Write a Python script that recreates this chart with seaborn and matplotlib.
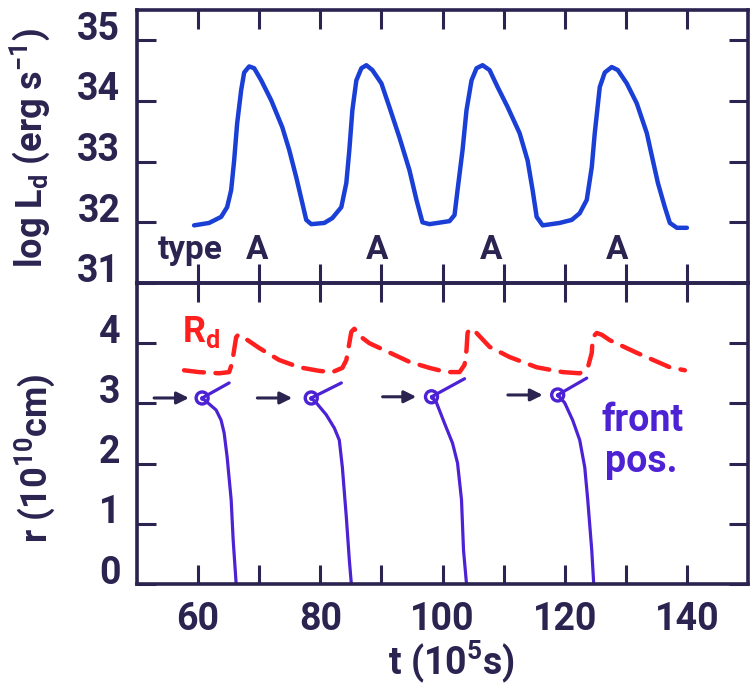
import numpy as np
import pandas as pd
import matplotlib
matplotlib.use("Agg")
import matplotlib.pyplot as plt
import matplotlib.transforms as mtransforms
import seaborn as sns

# ---- data ----
lum_t = [59.34, 61.80, 63.77, 64.75, 65.41, 65.90, 66.39, 67.05, 67.54, 68.36, 69.18, 70.33,
         71.97, 73.77, 74.92, 76.07, 77.05, 77.70, 78.52, 80.66, 81.97, 83.44, 84.26, 84.75,
         85.25, 85.90, 86.72, 87.54, 88.52, 90.00, 91.31, 92.95, 94.59, 95.74, 96.72, 97.87,
         101.15, 101.97, 102.46, 103.28, 103.93, 104.75, 105.57, 106.56, 107.70, 109.02,
         110.66, 112.62, 113.93, 114.75, 115.41, 116.39, 119.18, 121.15, 122.46, 123.61,
         124.43, 124.92, 125.74, 126.56, 127.70, 128.69, 130.16, 131.80, 133.44, 134.43,
         135.25, 136.39, 137.21, 138.36, 140.00]
lum_logL = [31.95, 31.99, 32.09, 32.25, 32.53, 33.02, 33.63, 34.18, 34.47, 34.57, 34.54, 34.34,
            34.01, 33.57, 33.19, 32.74, 32.32, 32.04, 31.97, 31.99, 32.07, 32.25, 32.65, 33.19,
            33.85, 34.34, 34.54, 34.59, 34.51, 34.29, 33.90, 33.40, 32.86, 32.37, 32.00, 31.97,
            32.02, 32.12, 32.53, 33.19, 33.85, 34.34, 34.54, 34.59, 34.51, 34.23,
            33.90, 33.47, 33.02, 32.53, 32.09, 31.95, 31.99, 32.04, 32.15, 32.37,
            32.91, 33.47, 34.23, 34.47, 34.56, 34.51, 34.29, 33.96, 33.47, 33.02,
            32.65, 32.25, 31.99, 31.91, 31.91]

type_label_t = [69.7, 89.3, 108.0, 128.5]
type_label = ["A", "A", "A", "A"]

rd_t = [57.70, 60.16, 63.44, 65.08, 65.57, 65.90, 66.23, 66.56, 67.54, 70.00, 73.28, 76.56,
        79.84, 81.97, 83.61, 84.26, 84.75, 85.08, 85.57, 86.72, 88.03, 94.59, 97.87, 100.66,
        102.79, 103.61, 103.93, 104.10, 104.43, 105.57, 107.70, 110.98, 115.41, 119.67,
        122.46, 123.77, 124.43, 124.59, 125.25, 126.07, 127.38, 131.80, 137.21, 139.67]
rd_r = [3.55, 3.52, 3.50, 3.52, 3.67, 3.89, 4.10, 4.14, 4.09, 3.92, 3.72, 3.60,
        3.54, 3.52, 3.59, 3.72, 4.00, 4.19, 4.24, 4.10, 4.00, 3.69, 3.59, 3.52,
        3.52, 3.64, 3.89, 4.17, 4.24, 4.17, 3.94, 3.77, 3.60, 3.52,
        3.50, 3.59, 3.84, 4.10, 4.17, 4.14, 4.05, 3.84, 3.60, 3.55]

front_cycle = [1]*9 + [2]*9 + [3]*8 + [4]*8
front_t = [60.66, 61.48, 62.95, 63.77, 64.26, 64.75, 65.41, 65.74, 66.23,
           78.52, 79.34, 80.98, 82.30, 83.11, 83.61, 84.26, 84.75, 85.08,
           98.20, 99.02, 100.33, 101.64, 102.46, 103.11, 103.44, 103.93,
           118.85, 120.00, 121.31, 122.46, 123.28, 123.77, 124.43, 124.75]
front_r = [3.09, 3.02, 2.89, 2.72, 2.51, 2.11, 1.40, 0.73, 0.00,
           3.09, 3.01, 2.81, 2.59, 2.39, 1.94, 1.11, 0.40, 0.00,
           3.11, 3.01, 2.67, 2.34, 2.01, 1.40, 0.56, 0.00,
           3.14, 3.01, 2.72, 2.39, 1.94, 1.40, 0.56, 0.00]

ignition_t = [60.66, 78.52, 98.20, 118.85]
ignition_r = [3.09, 3.09, 3.11, 3.14]
spur_t_end = [65.08, 83.44, 103.61, 123.61]
spur_r_end = [3.34, 3.34, 3.41, 3.42]
arrow_t_start = [52.8, 69.7, 90.2, 110.7]
arrow_t_end = [58.5, 75.4, 95.7, 116.4]
arrow_r = [3.09, 3.09, 3.11, 3.14]

x_ticks = [60, 80, 100, 120, 140]
top_yticks = [31, 32, 33, 34, 35]
bot_yticks = [0, 1, 2, 3, 4]

# ---- styling ----
sns.set_style("white")
plt.rcParams['font.family'] = ['Roboto', 'DejaVu Sans']
plt.rcParams['font.weight'] = 'bold'
plt.rcParams['mathtext.fontset'] = 'custom'
plt.rcParams['mathtext.rm'] = 'Roboto:bold'
plt.rcParams['mathtext.it'] = 'Roboto:bold'
plt.rcParams['mathtext.bf'] = 'Roboto:bold'
INK = "#2b2350"
BLUE = "#1a3fd6"
RED = "#ff1f1f"
PURPLE = "#4c22d4"
FS = 27

fig = plt.figure(figsize=(7.56, 6.87), dpi=100)
ax1 = fig.add_axes([137/756, 1-283/687, (748-137)/756, (283-10)/687])
ax2 = fig.add_axes([137/756, 1-584/687, (748-137)/756, (584-283)/687])

df_lum = pd.DataFrame({"t": lum_t, "logL": lum_logL})
sns.lineplot(data=df_lum, x="t", y="logL", ax=ax1, color=BLUE, lw=3.2,
             sort=False, estimator=None, solid_joinstyle="round", solid_capstyle="round")
ax1.text(58.8, 31.55, "type", fontsize=FS-3, color=INK, ha="center", va="center")
for tt, lab in zip(type_label_t, type_label):
    ax1.text(tt, 31.55, lab, fontsize=FS-3, color=INK, ha="center", va="center")

df_rd = pd.DataFrame({"t": rd_t, "r": rd_r})
sns.lineplot(data=df_rd, x="t", y="r", ax=ax2, color=RED, lw=3.2,
             sort=False, estimator=None)
ax2.lines[-1].set_dashes((4.5, 2.6))
ax2.lines[-1].set_dash_capstyle("round")

df_front = pd.DataFrame({"t": front_t, "r": front_r, "cycle": front_cycle})
sns.lineplot(data=df_front, x="t", y="r", units="cycle", estimator=None, sort=False,
             ax=ax2, color=PURPLE, lw=2.3, solid_joinstyle="round")
for t0, r0, t1, r1 in zip(ignition_t, ignition_r, spur_t_end, spur_r_end):
    ax2.plot([t0, t1], [r0, r1], color=PURPLE, lw=2.3, solid_capstyle="round")
sns.scatterplot(x=ignition_t, y=ignition_r, ax=ax2, s=75, facecolor="none",
                edgecolor=PURPLE, linewidth=2.4, zorder=5)
sns.scatterplot(x=ignition_t, y=ignition_r, ax=ax2, s=12, color=PURPLE,
                linewidth=0, zorder=6)
for ts, te, r0 in zip(arrow_t_start, arrow_t_end, arrow_r):
    ax2.annotate("", xy=(te, r0), xytext=(ts, r0),
                 arrowprops=dict(arrowstyle="-|>", color=INK, lw=2.2,
                                 mutation_scale=18, shrinkA=0, shrinkB=0))

ax2.text(57.3, 4.19, r"R$_\mathrm{d}$", fontsize=FS-1, color=RED, ha="left", va="center")
ax2.text(132.8, 2.72, "front", fontsize=FS, color=PURPLE, ha="center", va="center")
ax2.text(132.6, 2.03, "pos.", fontsize=FS, color=PURPLE, ha="center", va="center")

for ax in (ax1, ax2):
    ax.set_xlim(50, 150)
    ax.set_xticks(np.arange(60, 141, 10))
    ax.tick_params(direction="in", length=14, width=2.2, color=INK, labelcolor=INK,
                   labelsize=FS, top=True, right=True, bottom=True, left=True, pad=12)
    for sp in ax.spines.values():
        sp.set_color(INK)
        sp.set_linewidth(2.6)
        sp.set_visible(True)
    ax.set_xlabel("")
    ax.set_ylabel("")
    ax.set_facecolor("none")

ax1.set_ylim(31, 35.5)
ax1.set_yticks(top_yticks)
ax1.set_yticklabels([str(v) for v in top_yticks])
ax1.tick_params(axis="x", labelbottom=False)

ax2.set_ylim(0, 5)
ax2.set_yticks(bot_yticks)
ax2.set_yticklabels([str(v) for v in bot_yticks])
ax2.set_xticklabels([str(v) if v in x_ticks else "" for v in np.arange(60, 141, 10)])

off = mtransforms.ScaledTranslation(0, 0.15, fig.dpi_scale_trans)
for ax in (ax1, ax2):
    for lab in ax.get_yticklabels():
        lab.set_transform(lab.get_transform() + off)

fig.text(30/756, 1-148/687, r"log L$_\mathrm{d}$ (erg s$^{-1}$)", rotation=90,
         fontsize=FS-1, color=INK, ha="center", va="center")
fig.text(35/756, 1-458/687, r"r (10$^{10}$cm)", rotation=90,
         fontsize=FS-1, color=INK, ha="center", va="center")
fig.text(452/756, 1-662/687, r"t (10$^5$s)", fontsize=FS, color=INK,
         ha="center", va="center")

fig.savefig("out.png", dpi=100, facecolor="white")
